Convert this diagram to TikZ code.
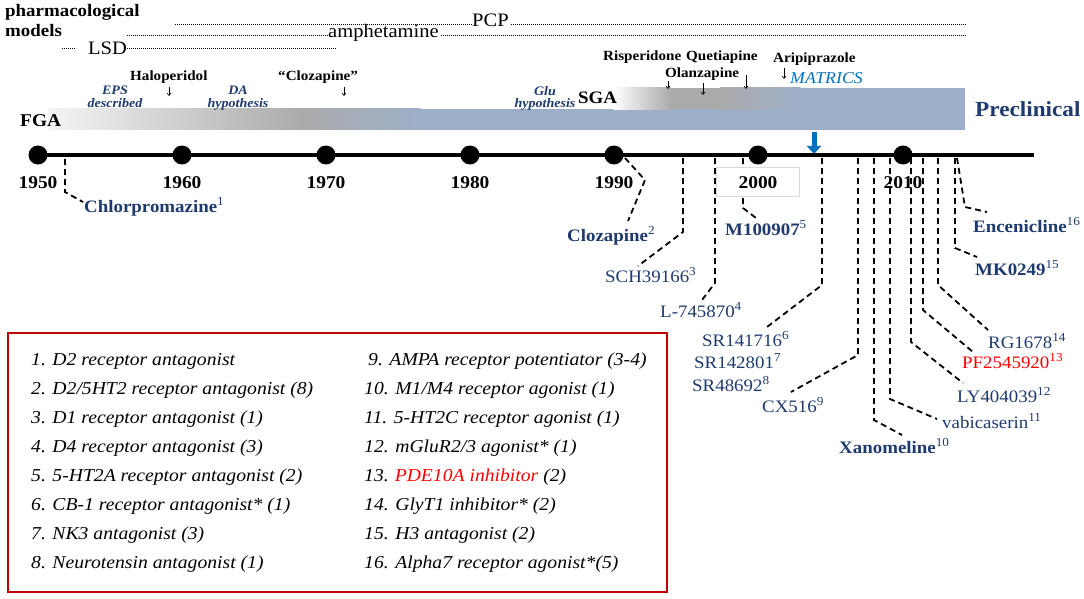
\documentclass[tikz,border=0pt]{standalone}
\usepackage{fontspec}
\setmainfont[FakeStretch=1.08]{Liberation Serif}
\usetikzlibrary{arrows.meta}
\definecolor{navy}{HTML}{1F3A6E}
\definecolor{mblue}{HTML}{0070C0}
\definecolor{boxred}{HTML}{C00000}
\definecolor{barblue}{HTML}{9DAFC8}
\definecolor{barg}{HTML}{ABABAB}
\newcommand\supn[1]{\textsuperscript{\mdseries #1}}
\newcommand\fs[1]{\fontsize{#1}{#1}\selectfont}
\tikzset{
  lbl/.style={inner sep=0, anchor=base west},
  drug/.style={lbl, text=navy, font=\fs{17.5}},
  drugb/.style={lbl, text=navy, font=\bfseries\fs{17.5}},
  conn/.style={dash pattern=on 6pt off 4pt, line width=1.8pt},
  legend/.style={lbl, font=\itshape\fs{18.2}},
  smallarr/.style={-{Straight Barb[length=2.5pt,width=4pt]}, line width=0.6pt},
  dotln/.style={line width=0.9pt, dash pattern=on 0.9pt off 1.1pt},
  hyp/.style={inner sep=0, anchor=north, align=center, text=navy, font=\bfseries\itshape\fontsize{13}{12.5}\selectfont},
  model/.style={inner sep=0, anchor=base west, font=\fs{19}},
  topdrug/.style={inner sep=0, anchor=base west, font=\bfseries\fs{14}},
  year/.style={inner sep=0, anchor=base, font=\bfseries\fs{18}},
  tdot/.style={circle, fill=black, minimum size=19pt, inner sep=0}
}
\begin{document}
\begin{tikzpicture}[x=1pt,y=-1pt]
\useasboundingbox (0,0) rectangle (1084,599);

% ---- pharmacological models
\node[lbl, font=\bfseries\fs{17.5}] (pm1) at (5,17) {pharmacological};
\node[lbl, font=\bfseries\fs{17.5}] (pm2) at (5,37) {models};
\node[model] (pcp) at (472,27) {PCP};
\node[model] (amph) at (328,38) {amphetamine};
\node[model] (lsd) at (88,55) {LSD};
\coordinate (pcpA) at (175,24); \coordinate (pcpB) at (965,24);
\coordinate (amA) at (127,35); \coordinate (amB) at (965,35);
\coordinate (lsA) at (62,48); \coordinate (lsB) at (76,48); \coordinate (lsC) at (337,48);
\draw[dotln] (pcpA) -- (pcp.west |- pcpA);
\draw[dotln] (pcp.east |- pcpA) ++(2,0) -- (pcpB);
\draw[dotln] (amA) -- (amph.west |- amA);
\draw[dotln] (amph.east |- amA) ++(2,0) -- (amB);
\draw[dotln] (lsA) -- (lsB);
\draw[dotln] (lsd.east |- lsC) -- (lsC);

% ---- bars
\shade[left color=gray!8, right color=barg] (48,109) rectangle (300.5,130);
\shade[left color=barg, right color=barblue] (300,109) rectangle (420.5,130);
\fill[barblue] (420,109) rectangle (965,130);
\shade[left color=white, right color=barg] (613,88) rectangle (670.5,109.2);
\fill[barg] (670,88) rectangle (720.5,109.2);
\shade[left color=barg, right color=barblue] (720,88) rectangle (800.5,109.2);
\fill[barblue] (800,88) rectangle (965,109.2);

\node[lbl, font=\bfseries\fs{18}] (fga) at (20,127) {FGA};
\node[lbl, font=\bfseries\fs{17.5}] (sga) at (578,104) {SGA};
\node[lbl, text=navy, font=\bfseries\fs{21.5}] (precl) at (975,117) {Preclinical};

\node[hyp] (eps) at (115,86) {EPS\\described};
\node[hyp] (dah) at (238,86) {DA\\hypothesis};
\node[hyp] (glu) at (545,86) {Glu\\hypothesis};

% ---- drugs above bar
\node[topdrug] (halo) at (130,81) {Haloperidol};
\node[topdrug] (cloq) at (278,81) {“Clozapine”};
\node[topdrug] (risp) at (603,61) {Risperidone};
\node[topdrug] (quet) at (686,61) {Quetiapine};
\node[topdrug] (olan) at (665,78) {Olanzapine};
\node[topdrug] (arip) at (773,63) {Aripiprazole};
\node[lbl, text=mblue, font=\itshape\fs{16.5}] (matr) at (790,84) {MATRICS};
\coordinate (haloE) at (169,96);  \draw[smallarr] (halo.south -| haloE) ++(0,3) -- (haloE);
\coordinate (cloqE) at (344,96);  \draw[smallarr] (cloq.south -| cloqE) ++(0,3) -- (cloqE);
\coordinate (rispE) at (668,89);  \draw[smallarr] (risp.south -| rispE) ++(0,17) -- (rispE);
\coordinate (olanE) at (703,95);  \draw[smallarr] (olan.south -| olanE) ++(0,2) -- (olanE);
\coordinate (quetE) at (746,89);  \draw[smallarr] (quet.south -| quetE) ++(0,11) -- (quetE);
\coordinate (aripE) at (784,79);  \draw[smallarr] (arip.south -| aripE) ++(0,2) -- (aripE);

% blue arrow
\coordinate (baS) at (814,132); \coordinate (baE) at (814,154);
\draw[mblue, line width=5pt, -{Triangle[width=14pt,length=8pt]}] (baS) -- (baE);

% ---- timeline
\coordinate (tlA) at (30,155); \coordinate (tlB) at (1034,155);
\draw[line width=3pt] (tlA) -- (tlB);
\foreach \yr/\xx in {1950/38,1960/182,1970/326,1980/470,1990/614,2000/758,2010/903}{
  \node[tdot] (d\yr) at (\xx,155) {};
}
\foreach \yr/\xx in {1950/38,1960/182,1970/326,1980/470,1990/614,2010/903}{
  \node[year] (y\yr) at (\xx,188) {\yr};
}

% ---- drug labels
\node[drugb] (chl) at (84,212) {Chlorpromazine\supn{1}};
\node[drugb] (clo) at (567,241) {Clozapine\supn{2}};
\node[drug]  (sch) at (605,282) {SCH39166\supn{3}};
\node[drug]  (l74) at (660,317) {L-745870\supn{4}};
\node[drugb] (m10) at (725,235) {M100907\supn{5}};
\node[drug]  (sr1) at (702,346) {SR141716\supn{6}};
\node[drug]  (sr2) at (694,368) {SR142801\supn{7}};
\node[drug]  (sr4) at (692,391) {SR48692\supn{8}};
\node[drug]  (cx)  at (762,412) {CX516\supn{9}};
\node[drugb] (xan) at (839,453) {Xanomeline\supn{10}};
\node[drug]  (vab) at (942,428) {vabicaserin\supn{11}};
\node[drug]  (ly)  at (957,402) {LY404039\supn{12}};
\node[drug, text=red] (pf) at (962,368) {PF2545920\supn{13}};
\node[drug]  (rg)  at (988,348) {RG1678\supn{14}};
\node[drugb] (mk)  at (975,275) {MK0249\supn{15}};
\node[drugb] (enc) at (973,232) {Encenicline\supn{16}};

% ---- connectors
\coordinate (t1) at (65,159);  \coordinate (b1) at (65,192);  \coordinate (e1) at (83,202);
\coordinate (t2) at (625,158); \coordinate (b2) at (645,180); \coordinate (e2) at (628,221);
\coordinate (t3) at (683,158); \coordinate (b3) at (683,232); \coordinate (e3) at (638,266);
\coordinate (t4) at (715,158); \coordinate (b4) at (715,283); \coordinate (e4) at (702,300);
\coordinate (t5) at (743,158); \coordinate (b5) at (743,208); \coordinate (e5) at (756,218);
\coordinate (t6) at (822,158); \coordinate (b6) at (822,285); \coordinate (e6) at (767,327);
\coordinate (t7) at (858,158); \coordinate (b7) at (858,355); \coordinate (e7) at (791,392);
\coordinate (t8) at (874,158); \coordinate (b8) at (874,420); \coordinate (e8) at (902,435);
\coordinate (t9) at (890,158); \coordinate (b9) at (890,399); \coordinate (e9) at (937,419);
\coordinate (t10) at (911,158); \coordinate (b10) at (911,342); \coordinate (e10) at (963,383);
\coordinate (t11) at (923,158); \coordinate (b11) at (923,310); \coordinate (e11) at (973,352);
\coordinate (t12) at (938,158); \coordinate (b12) at (938,285); \coordinate (e12) at (988,330);
\coordinate (t13) at (955,158); \coordinate (b13) at (955,248); \coordinate (e13) at (977,257);
\coordinate (t14) at (957,158); \coordinate (b14) at (965,207); \coordinate (e14) at (987,212);
\foreach \i in {1,...,14}{ \draw[conn] (t\i) -- (b\i) -- (e\i); }

% 2000 box on top of the M100907 connector
\node[draw=gray!30, fill=white, line width=0.8pt, minimum width=83pt, minimum height=29pt, inner sep=0] (box2000) at (757.5,181.5) {};
\node[year] (y2000) at (758,188) {2000};

% ---- legend
\draw[boxred, line width=2.6pt] (8,333) rectangle (667,592);
\foreach \t [count=\k] in {1. D2 receptor antagonist, 2. D2/5HT2 receptor antagonist (8), 3. D1 receptor antagonist (1), 4. D4 receptor antagonist (3), 5. 5-HT2A receptor antagonist (2), 6. CB-1 receptor antagonist* (1), 7. NK3 antagonist (3), 8. Neurotensin antagonist (1)}{
  \node[legend] (la\k) at (31,336+29*\k) {\t};
}
\node[legend] (lb1) at (368,365) {9. AMPA receptor potentiator (3-4)};
\node[legend] (lb2) at (364,394) {10. M1/M4 receptor agonist (1)};
\node[legend] (lb3) at (364,423) {11. 5-HT2C receptor agonist (1)};
\node[legend] (lb4) at (364,452) {12. mGluR2/3 agonist* (1)};
\node[legend] (lb5) at (364,481) {13.\hspace{6pt}{\color{red}PDE10A inhibitor} (2)};
\node[legend] (lb6) at (364,510) {14. GlyT1 inhibitor* (2)};
\node[legend] (lb7) at (364,539) {15. H3 antagonist (2)};
\node[legend] (lb8) at (364,568) {16. Alpha7 receptor agonist*(5)};
\end{tikzpicture}
\end{document}
